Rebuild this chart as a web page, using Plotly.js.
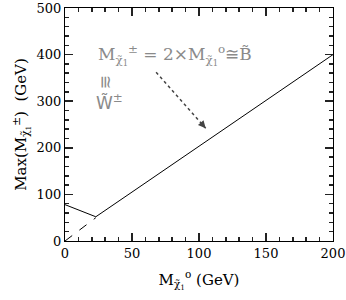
<!DOCTYPE html>
<html><head><meta charset="utf-8">
<script src="https://cdn.plot.ly/plotly-3.0.1.min.js"></script>
<style>html,body{margin:0;padding:0;background:#fff}</style>
</head><body>
<div id="chart" style="width:346px;height:300px"></div>
<script>
// Solid curve: Max(M_chargino) vs M_neutralino
const mNeutralino = [0, 5, 10, 15, 20, 23, 50, 100, 150, 200];
const maxChargino = [78, 72, 66, 60, 55, 52, 105, 203, 302, 400];
// Dashed line (lower bound region)
const dashX = [0, 23];
const dashY = [0, 50];
// Dotted arrow (start -> tip)
const arrowX = [68, 105];
const arrowY = [362, 242];

const xTickVals = [0, 50, 100, 150, 200];
const yTickVals = [0, 100, 200, 300, 400, 500];
const xMinorStep = 10;
const yMinorStep = 20;

const serif = "DejaVu Serif, Liberation Serif, serif";
const gray = "#8a8a8a";

const traces = [
  {x: mNeutralino, y: maxChargino, mode: "lines", line: {color: "#000", width: 1}, hoverinfo: "skip"},
  {x: dashX, y: dashY, mode: "lines", line: {color: "#000", width: 1, dash: "dash"}, hoverinfo: "skip"},
  {x: arrowX, y: arrowY, mode: "lines", line: {color: "#444", width: 1.5, dash: "dot"}, hoverinfo: "skip"}
];

function axis(vals, minorStep, title) {
  return {
    range: [vals[0], vals[vals.length - 1]],
    tickmode: "linear", tick0: vals[0], dtick: vals[1] - vals[0],
    showgrid: false, zeroline: false, showline: true, linecolor: "#000", linewidth: 1,
    mirror: "allticks", ticks: "inside", ticklen: 8, tickwidth: 1.5, tickcolor: "#222",
    tickfont: {family: serif, size: 13, color: "#000"},
    minor: {ticks: "inside", ticklen: 4, tickwidth: 1.5, tickcolor: "#222", dtick: minorStep},
    title: title
  };
}

const layout = {
  width: 346, height: 300,
  margin: {l: 65, r: 13, t: 8, b: 59},
  showlegend: false,
  xaxis: axis(xTickVals, xMinorStep, {text: "M<sub>χ̃<sub>1</sub></sub><sup>o</sup> (GeV)", font: {family: serif, size: 15, color: "#000"}, standoff: 14}),
  yaxis: axis(yTickVals, yMinorStep, {text: "Max(M<sub>χ̃<sub>1</sub></sub><sup>±</sup>)  (GeV)", font: {family: serif, size: 15, color: "#000"}, standoff: 6}),
  annotations: [
    {x: 23, y: 400, xref: "x", yref: "y", xanchor: "left", yanchor: "middle", showarrow: false,
     text: "M<sub>χ̃<sub>1</sub></sub><sup>±</sup> = 2×M<sub>χ̃<sub>1</sub></sub><sup>o</sup>≅B̃",
     font: {family: serif, size: 17, color: gray}},
    {x: 31, y: 342, xref: "x", yref: "y", showarrow: false, textangle: 90,
     text: "≅", font: {family: serif, size: 17, color: gray}},
    {x: 33, y: 298, xref: "x", yref: "y", showarrow: false,
     text: "W̃<sup>±</sup>", font: {family: "DejaVu Sans, sans-serif", size: 17, color: gray}},
    {x: arrowX[1], y: arrowY[1], ax: arrowX[1] - 4, ay: arrowY[1] + 13, axref: "x", ayref: "y", xref: "x", yref: "y",
     showarrow: true, text: "", arrowhead: 2, arrowsize: 1, arrowwidth: 1.5, arrowcolor: "#444", standoff: 0}
  ]
};

Plotly.newPlot("chart", traces, layout, {displayModeBar: false, staticPlot: true});
</script>
</body></html>
